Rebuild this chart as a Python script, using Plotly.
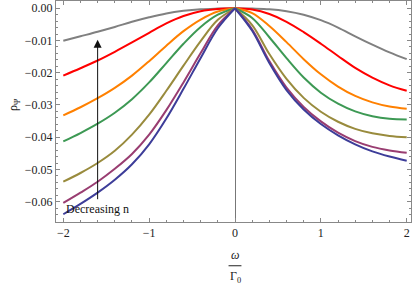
import plotly.graph_objects as go

# omega / Gamma0 sample points
x_left = [-2.0, -1.8, -1.6, -1.4, -1.2, -1.0, -0.8, -0.6, -0.4, -0.2, 0.0]
x_right = [0.0, 0.2, 0.4, 0.6, 0.8, 1.0, 1.2, 1.4, 1.6, 1.8, 2.0]

gray_left = [-0.0101, -0.0087, -0.0073, -0.0058, -0.0042, -0.0028, -0.0016, -0.0008, -0.0003, -0.0001, 0.0]
gray_right = [0.0, -0.0001, -0.0003, -0.0009, -0.0020, -0.0037, -0.0060, -0.0087, -0.0113, -0.0137, -0.0158]
red_left = [-0.0209, -0.0186, -0.0162, -0.0135, -0.0106, -0.0076, -0.0047, -0.0024, -0.0009, -0.0002, 0.0]
red_right = [0.0, -0.0004, -0.0018, -0.0042, -0.0074, -0.0110, -0.0148, -0.0185, -0.0215, -0.0239, -0.0256]
orange_left = [-0.0332, -0.0307, -0.0279, -0.0247, -0.0209, -0.0164, -0.0116, -0.0071, -0.0035, -0.0010, 0.0]
orange_right = [0.0, -0.0015, -0.0055, -0.0105, -0.0158, -0.0205, -0.0243, -0.0272, -0.0292, -0.0305, -0.0312]
green_left = [-0.0413, -0.0387, -0.0358, -0.0324, -0.0282, -0.0230, -0.0170, -0.0110, -0.0058, -0.0020, 0.0]
green_right = [0.0, -0.0030, -0.0090, -0.0155, -0.0215, -0.0262, -0.0296, -0.0320, -0.0335, -0.0343, -0.0345]
olive_left = [-0.0538, -0.0511, -0.0480, -0.0442, -0.0392, -0.0330, -0.0256, -0.0178, -0.0102, -0.0036, 0.0]
olive_right = [0.0, -0.0052, -0.0142, -0.0219, -0.0278, -0.0321, -0.0352, -0.0374, -0.0388, -0.0396, -0.0400]
purple_left = [-0.0604, -0.0572, -0.0538, -0.0498, -0.0452, -0.0392, -0.0316, -0.0230, -0.0139, -0.0053, 0.0]
purple_right = [0.0, -0.0066, -0.0164, -0.0246, -0.0306, -0.0351, -0.0386, -0.0412, -0.0430, -0.0441, -0.0448]
blue_left = [-0.0639, -0.0607, -0.0572, -0.0532, -0.0484, -0.0422, -0.0342, -0.0250, -0.0154, -0.0062, 0.0]
blue_right = [0.0, -0.0070, -0.0170, -0.0254, -0.0314, -0.0359, -0.0394, -0.0422, -0.0444, -0.0460, -0.0473]

series = [
    (gray_left, gray_right, "#808080"),
    (red_left, red_right, "#FF0000"),
    (orange_left, orange_right, "#FF8000"),
    (green_left, green_right, "#3D9954"),
    (olive_left, olive_right, "#998B3D"),
    (purple_left, purple_right, "#993D71"),
    (blue_left, blue_right, "#3D3D99"),
]

x_ticks = [-2, -1, 0, 1, 2]
x_tick_labels = ["\u22122", "\u22121", "0", "1", "2"]
y_ticks = [0.0, -0.01, -0.02, -0.03, -0.04, -0.05, -0.06]
y_tick_labels = ["0.00", "\u22120.01", "\u22120.02", "\u22120.03", "\u22120.04", "\u22120.05", "\u22120.06"]

fig = go.Figure()
for left, right, col in series:
    for xs, ys in ((x_left, left), (x_right, right)):
        fig.add_trace(go.Scatter(x=xs, y=ys, mode="lines",
                                 line=dict(color=col, width=2, shape="spline", smoothing=1.0),
                                 showlegend=False, hoverinfo="skip"))

serif = "Liberation Serif, Times New Roman, serif"
font = dict(family=serif, size=12, color="#222222")

axis_common = dict(showline=True, linecolor="#888888", linewidth=1, mirror="allticks",
                   ticks="inside", tickcolor="#888888", ticklen=4, showgrid=False,
                   tickfont=font, automargin=False)

fig.update_layout(
    width=415, height=286,
    margin=dict(l=56, r=4, t=1, b=64),
    paper_bgcolor="white", plot_bgcolor="white",
    font=font, hovermode=False,
    xaxis=dict(range=[-2.085, 2.05], tickvals=x_ticks, ticktext=x_tick_labels,
               zeroline=True, zerolinecolor="#777777", zerolinewidth=1,
               minor=dict(ticks="inside", ticklen=2, tickcolor="#888888", dtick=0.2, tick0=0),
               **axis_common),
    yaxis=dict(range=[-0.0663, 0.00225], tickvals=y_ticks, ticktext=y_tick_labels,
               zeroline=False,
               minor=dict(ticks="inside", ticklen=2, tickcolor="#888888", dtick=0.002, tick0=0),
               **axis_common),
)

# y-axis label
fig.add_annotation(x=-0.118, y=0.53, xref="paper", yref="paper", text="\u03c1<sub>\u03a8</sub>",
                   showarrow=False, textangle=-90, xanchor="center", yanchor="middle",
                   font=dict(family=serif, size=12, color="#222222"))

# arrow
fig.add_annotation(x=-1.6, y=-0.0098, ax=-1.6, ay=-0.0597, xref="x", yref="y",
                   axref="x", ayref="y", showarrow=True, arrowhead=2, arrowsize=1.6,
                   arrowwidth=1, arrowcolor="#111111", text="")
fig.add_annotation(x=-1.99, y=-0.0622, xref="x", yref="y", text="Decreasing n",
                   showarrow=False, xanchor="left", yanchor="middle",
                   font=dict(family=serif, size=12, color="#111111"))

# x-axis label as fraction omega / Gamma0
fig.add_annotation(x=0, y=-0.149, xref="x", yref="paper", text="<i>\u03c9</i>", showarrow=False,
                   yanchor="middle", font=dict(family=serif, size=12, color="#222222"))
fig.add_annotation(x=0, y=-0.249, xref="x", yref="paper", text="\u0393<sub>0</sub>", showarrow=False,
                   yanchor="middle", font=dict(family=serif, size=12, color="#222222"))
fig.add_shape(type="line", xref="x", yref="paper", x0=-0.075, x1=0.075, y0=-0.198, y1=-0.198,
              line=dict(color="#222222", width=1))

fig.write_html("out.html", config={"displayModeBar": False, "staticPlot": True},
               post_script="document.body.style.margin='0';document.body.style.overflow='hidden';")
